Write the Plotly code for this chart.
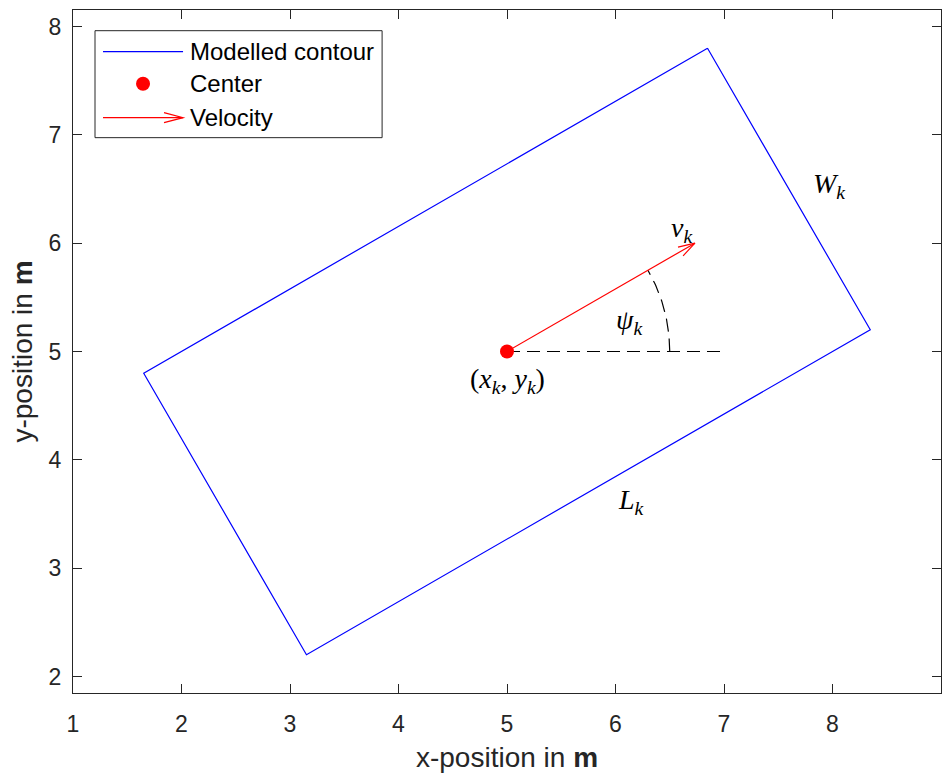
import numpy as np
import plotly.graph_objects as go

# ---- data ----
center_x = 5.0
center_y = 5.0
heading_deg = 30.0
length_L = 6.0
width_W = 3.0
speed_v = 2.0
ref_line_end_x = 7.0
arc_radius = 1.5
x_ticks = [1, 2, 3, 4, 5, 6, 7, 8, 9]
y_ticks = [2, 3, 4, 5, 6, 7, 8]
label_texts = ["<i>v</i><sub><i>k</i></sub>", "<i>ψ</i><sub><i>k</i></sub>",
               "(<i>x</i><sub><i>k</i></sub>, <i>y</i><sub><i>k</i></sub>)",
               "<i>W</i><sub><i>k</i></sub>", "<i>L</i><sub><i>k</i></sub>"]
label_x = [6.61, 6.12, 5.00, 7.97, 6.14]
label_y = [6.13, 5.28, 4.73, 6.53, 3.62]

# ---- geometry ----
th = np.deg2rad(heading_deg)
u = np.array([np.cos(th), np.sin(th)])
n = np.array([-np.sin(th), np.cos(th)])
c = np.array([center_x, center_y])
corners = [c + (length_L / 2) * u + (width_W / 2) * n,
           c + (length_L / 2) * u - (width_W / 2) * n,
           c - (length_L / 2) * u - (width_W / 2) * n,
           c - (length_L / 2) * u + (width_W / 2) * n]
corners.append(corners[0])
rect_x = [p[0] for p in corners]
rect_y = [p[1] for p in corners]

tip = c + speed_v * u
hl = 0.16
ha = np.deg2rad(17)
b1 = tip - hl * np.array([np.cos(th - ha), np.sin(th - ha)])
b2 = tip - hl * np.array([np.cos(th + ha), np.sin(th + ha)])
arrow_x = [c[0], tip[0], None, b1[0], tip[0], b2[0]]
arrow_y = [c[1], tip[1], None, b1[1], tip[1], b2[1]]

angs = np.linspace(0, th, 40)
arc_x = center_x + arc_radius * np.cos(angs)
arc_y = center_y + arc_radius * np.sin(angs)

fig = go.Figure()
fig.add_trace(go.Scatter(x=rect_x, y=rect_y, mode="lines",
                         line=dict(color="#0000ff", width=1.2), showlegend=False))
fig.add_trace(go.Scatter(x=[center_x, ref_line_end_x], y=[center_y, center_y], mode="lines",
                         line=dict(color="black", width=1.2, dash="13px,7px"), showlegend=False))
fig.add_trace(go.Scatter(x=arc_x, y=arc_y, mode="lines",
                         line=dict(color="black", width=1.2, dash="13px,7px"), showlegend=False))
fig.add_trace(go.Scatter(x=arrow_x, y=arrow_y, mode="lines",
                         line=dict(color="#ff0000", width=1.2), showlegend=False))
fig.add_trace(go.Scatter(x=[center_x], y=[center_y], mode="markers",
                         marker=dict(color="#ff0000", size=14), showlegend=False))

for t, lx, ly in zip(label_texts, label_x, label_y):
    fig.add_annotation(x=lx, y=ly, text=t, showarrow=False,
                       font=dict(family="Liberation Serif", size=28, color="black"))

# ---- manual legend (paper coordinates) ----
L, R, T, B = 73, 940.7, 10.3, 693.5
def px(xp): return (xp - L) / (R - L)
def py(yp): return (B - yp) / (B - T)

fig.add_shape(type="rect", xref="paper", yref="paper", x0=px(95), x1=px(382), y0=py(138), y1=py(31),
              line=dict(color="#262626", width=1), fillcolor="white", layer="above")
fig.add_shape(type="line", xref="paper", yref="paper", x0=px(103), x1=px(183), y0=py(52), y1=py(52),
              line=dict(color="#0000ff", width=1.2), layer="above")
fig.add_shape(type="circle", xref="paper", yref="paper", xsizemode="pixel", ysizemode="pixel",
              xanchor=px(143), yanchor=py(84), x0=-7, x1=7, y0=-7, y1=7,
              line=dict(color="#ff0000", width=0), fillcolor="#ff0000", layer="above")
fig.add_shape(type="line", xref="paper", yref="paper", x0=px(103), x1=px(183), y0=py(118), y1=py(118),
              line=dict(color="#ff0000", width=1.2), layer="above")
fig.add_shape(type="path", xref="paper", yref="paper",
              path=f"M {px(164)},{py(113)} L {px(183)},{py(118)} L {px(164)},{py(123)}",
              line=dict(color="#ff0000", width=1.2), layer="above")
for txt, yy in [("Modelled contour", 52), ("Center", 84), ("Velocity", 118)]:
    fig.add_annotation(xref="paper", yref="paper", x=px(188), y=py(yy), text=txt, showarrow=False,
                       xanchor="left", yanchor="middle",
                       font=dict(family="Liberation Sans", size=24, color="black"))

axis_common = dict(showgrid=False, zeroline=False, showline=True, linecolor="#262626", linewidth=1,
                   mirror="ticks", ticks="inside", ticklen=9, tickwidth=1.2, tickcolor="#262626",
                   tickfont=dict(family="Liberation Sans", size=23, color="#262626"))
fig.update_layout(
    width=946, height=775,
    margin=dict(l=73, r=5, t=10, b=82),
    paper_bgcolor="white", plot_bgcolor="white",
    xaxis=dict(range=[1, 9], tickvals=x_ticks, ticklabelstandoff=10,
               title=dict(text="x-position in <b>m</b>", standoff=11,
                          font=dict(family="Liberation Sans", size=28, color="#262626")),
               **axis_common),
    yaxis=dict(range=[1.848, 8.152], tickvals=y_ticks, ticklabelstandoff=6,
               title=dict(text="y-position in <b>m</b>", standoff=7,
                          font=dict(family="Liberation Sans", size=28, color="#262626")),
               **axis_common),
    showlegend=False,
)
fig.write_html("out.html")
